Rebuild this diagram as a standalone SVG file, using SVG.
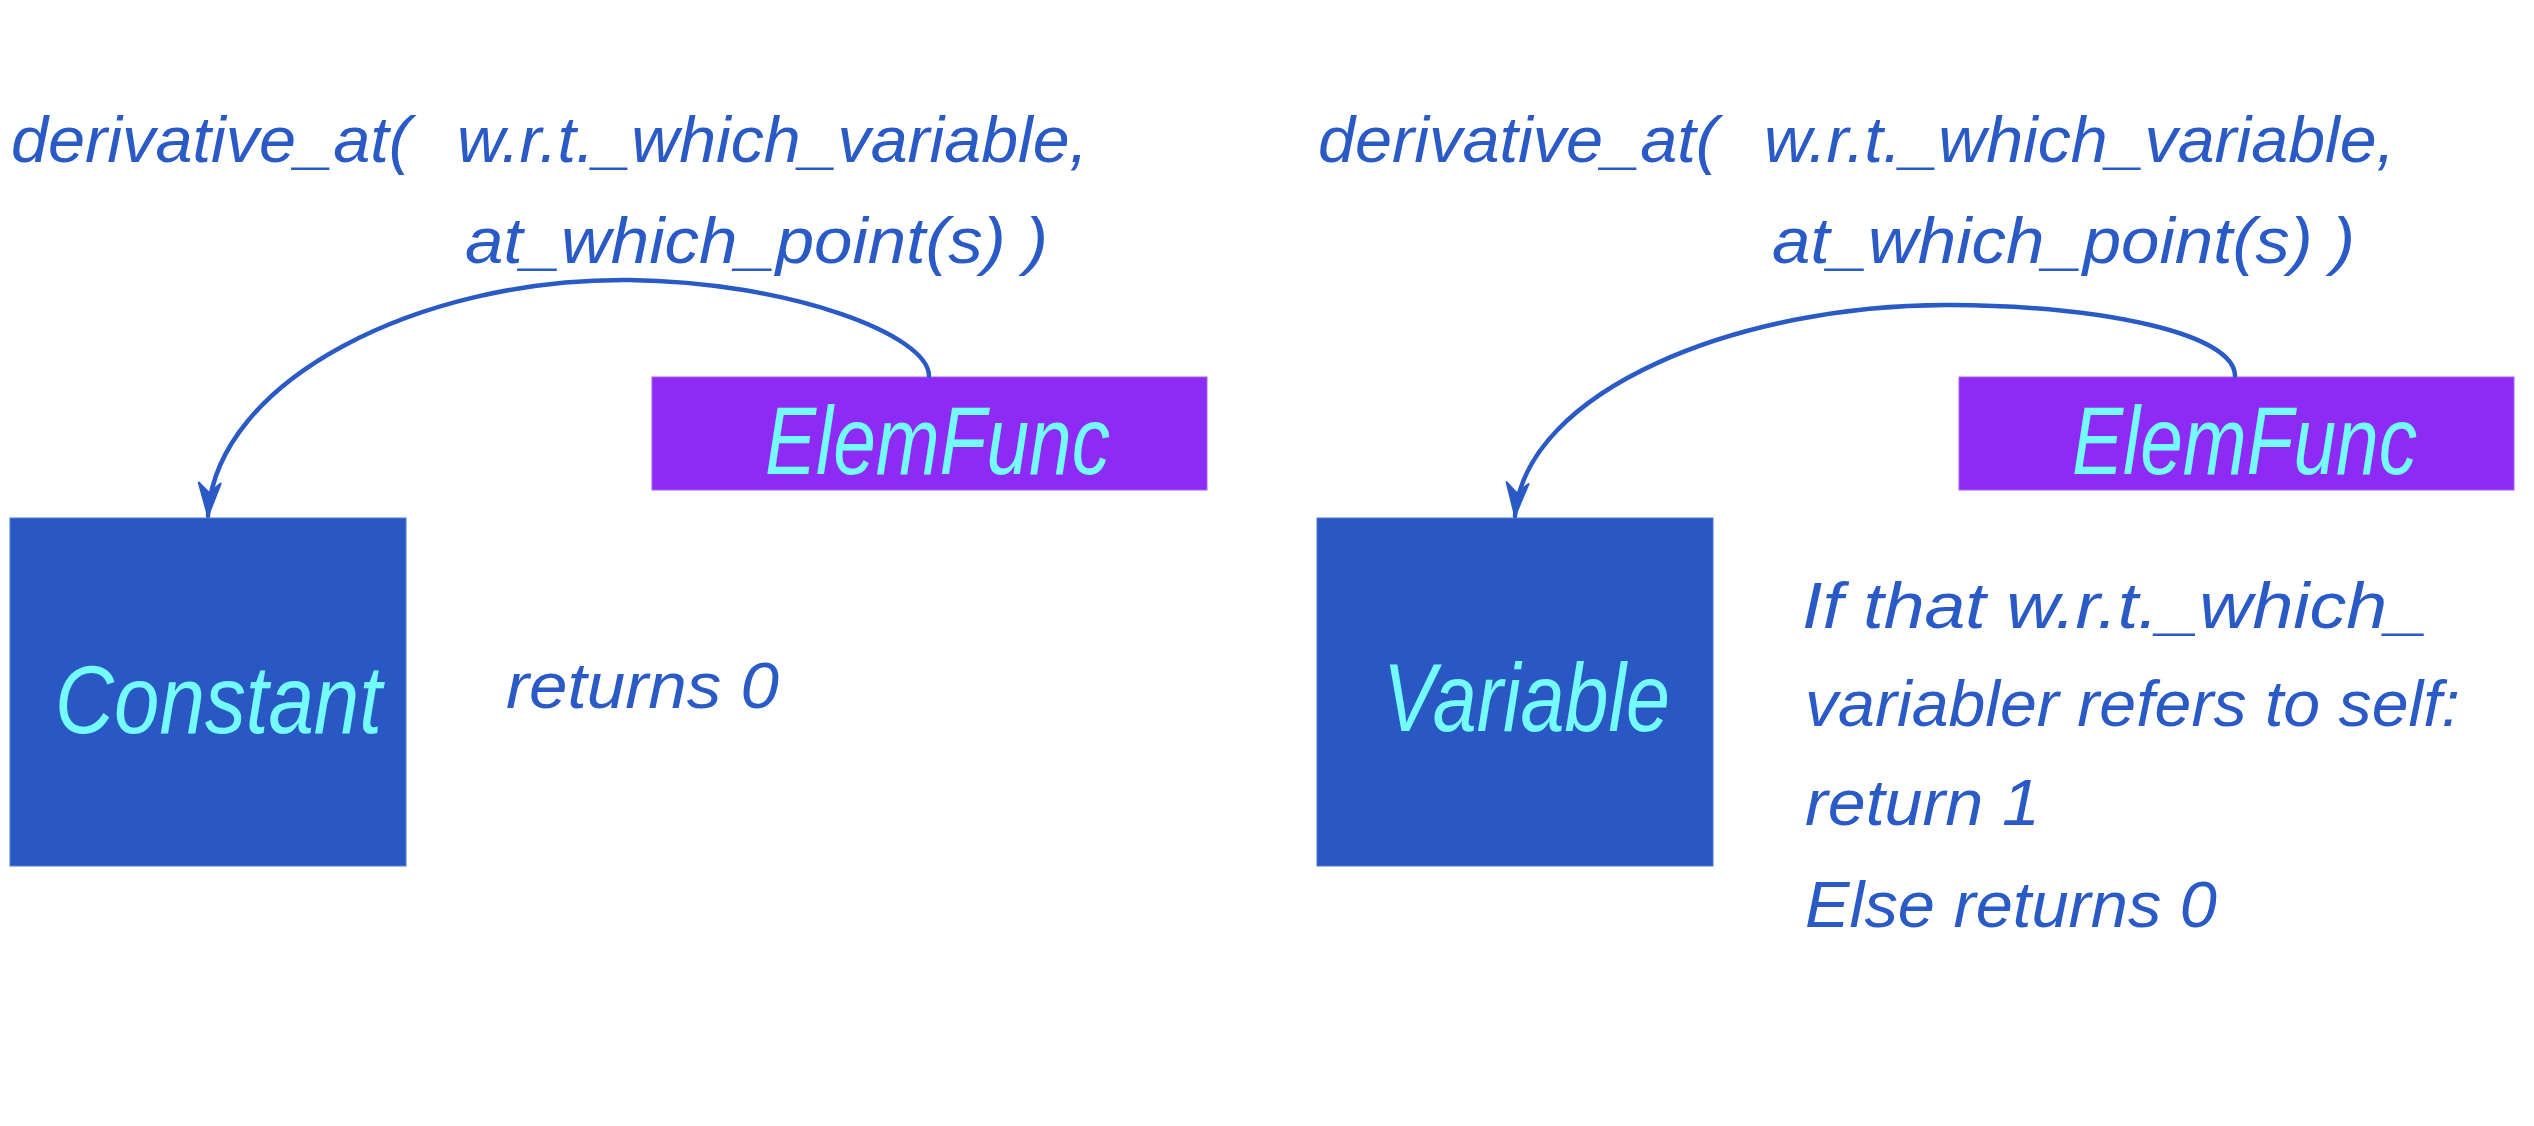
<svg xmlns="http://www.w3.org/2000/svg" width="2534" height="1126" viewBox="0 0 2534 1126">
<defs>
<style>
.t{font-family:"Liberation Sans","DejaVu Sans",sans-serif;font-style:italic;fill:#2a5ac6;font-size:64px}
.lbl{font-family:"Liberation Sans","DejaVu Sans",sans-serif;font-style:italic;fill:#74fbfc;font-size:96px}
.blue{fill:#2958c4;stroke:#4a78d8;stroke-width:1}
.purple{fill:#8d2bf5;stroke:#a860f8;stroke-width:1}
.edge{fill:none;stroke:#2a5ac6;stroke-width:4.5;stroke-linecap:round}
</style>
<marker id="arr" viewBox="0 0 36 26" refX="35" refY="13" markerWidth="36" markerHeight="26" markerUnits="userSpaceOnUse" orient="auto">
<path d="M2,2 L35,13 L2,24 L12,13 Z" fill="#2a5ac6" stroke="#2a5ac6" stroke-width="2" stroke-linejoin="round"/>
</marker>
</defs>
<rect width="2534" height="1126" fill="#ffffff"/>

<g id="labels-left">
<text class="t" x="11" y="162" textLength="400" lengthAdjust="spacingAndGlyphs">derivative_at(</text>
<text class="t" x="457" y="162" textLength="631" lengthAdjust="spacingAndGlyphs">w.r.t._which_variable,</text>
<text class="t" x="465" y="263" textLength="583" lengthAdjust="spacingAndGlyphs">at_which_point(s) )</text>
<text class="t" x="506" y="708" textLength="273" lengthAdjust="spacingAndGlyphs">returns 0</text>
</g>

<g id="labels-right">
<text class="t" x="1318" y="162" textLength="400" lengthAdjust="spacingAndGlyphs">derivative_at(</text>
<text class="t" x="1764" y="162" textLength="631" lengthAdjust="spacingAndGlyphs">w.r.t._which_variable,</text>
<text class="t" x="1772" y="263" textLength="583" lengthAdjust="spacingAndGlyphs">at_which_point(s) )</text>
<text class="t" x="1802" y="628" textLength="626" lengthAdjust="spacingAndGlyphs">If that w.r.t._which_</text>
<text class="t" x="1805" y="726" textLength="655" lengthAdjust="spacingAndGlyphs">variabler refers to self:</text>
<text class="t" x="1805" y="825" textLength="235" lengthAdjust="spacingAndGlyphs">return 1</text>
<text class="t" x="1805" y="927" textLength="412" lengthAdjust="spacingAndGlyphs">Else returns 0</text>
</g>

<g id="node-constant">
<rect class="blue" x="10" y="518" width="396" height="348"/>
<text class="lbl" x="55" y="733" textLength="327" lengthAdjust="spacingAndGlyphs">Constant</text>
</g>

<g id="node-elemfunc-left">
<rect class="purple" x="652" y="377" width="555" height="113"/>
<text class="lbl" x="765" y="474" textLength="345" lengthAdjust="spacingAndGlyphs">ElemFunc</text>
</g>

<g id="node-variable">
<rect class="blue" x="1317" y="518" width="396" height="348"/>
<text class="lbl" x="1383" y="731" textLength="287" lengthAdjust="spacingAndGlyphs">Variable</text>
</g>

<g id="node-elemfunc-right">
<rect class="purple" x="1959" y="377" width="555" height="113"/>
<text class="lbl" x="2072" y="474" textLength="345" lengthAdjust="spacingAndGlyphs">ElemFunc</text>
</g>

<g id="connectors">
<path class="edge" marker-end="url(#arr)" d="M929,376 C929,335 790,282 629,280 C420,278 215,380 208,516"/>
<path class="edge" marker-end="url(#arr)" d="M2235,376 C2235,335 2110,306 1950,305 C1740,304 1525,390 1515,516"/>
</g>
</svg>
